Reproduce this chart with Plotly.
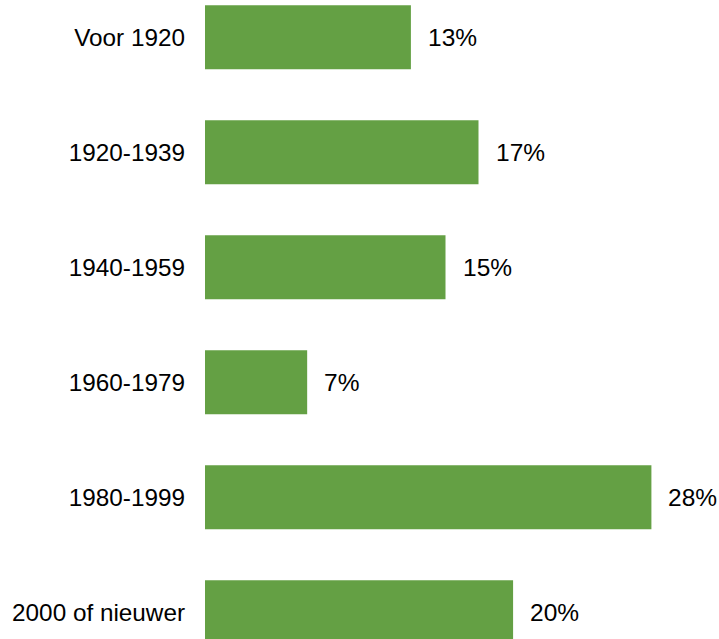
import plotly.graph_objects as go

categories = ["Voor 1920", "1920-1939", "1940-1959", "1960-1979", "1980-1999", "2000 of nieuwer"]
values = [13.1, 17.4, 15.3, 6.5, 28.4, 19.6]
value_labels = ["13%", "17%", "15%", "7%", "28%", "20%"]

BAR_COLOR = "#64A044"
FONT = "Liberation Sans, Arial, sans-serif"

fig = go.Figure()
fig.add_trace(go.Bar(
    x=values,
    y=categories,
    orientation="h",
    marker=dict(color=BAR_COLOR, line=dict(width=0)),
    width=0.557,
    hoverinfo="skip",
))

for c, v, t in zip(categories, values, value_labels):
    fig.add_annotation(
        x=v, y=c, text=t, showarrow=False,
        xanchor="left", yanchor="middle", xshift=15, yshift=0,
        font=dict(family=FONT, size=24.5, color="#000000"),
    )

fig.update_layout(
    width=719, height=639,
    margin=dict(l=205, r=0, t=0, b=0, pad=0),
    paper_bgcolor="white", plot_bgcolor="white",
    showlegend=False,
    bargap=0.443,
    xaxis=dict(range=[0, 32.7], visible=False, showgrid=False, zeroline=False, fixedrange=True),
    yaxis=dict(
        type="category",
        categoryorder="array", categoryarray=categories,
        range=[5.232, -0.324],
        showgrid=False, zeroline=False, showline=False,
        ticks="", ticklabelstandoff=19,
        tickfont=dict(family=FONT, size=24.3, color="#000000"),
        fixedrange=True,
    ),
)

fig.write_html(
    "out.html",
    config={"displayModeBar": False},
    post_script="document.body.style.margin='0';document.documentElement.style.overflow='hidden';",
)
